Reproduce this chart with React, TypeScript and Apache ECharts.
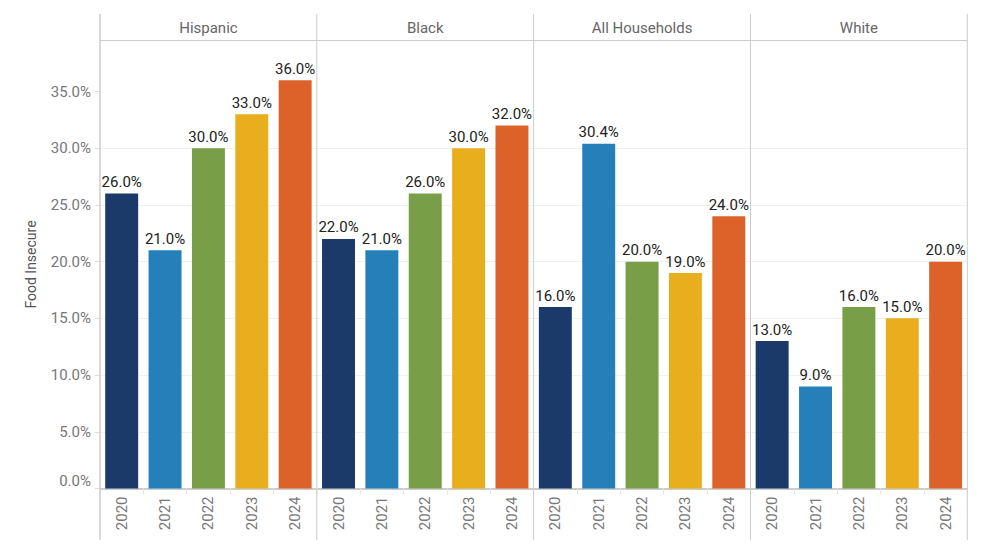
import React, { useEffect, useRef } from "react";
import * as echarts from "echarts";

const panels = ["Hispanic", "Black", "All Households", "White"];
const years = ["2020", "2021", "2022", "2023", "2024"];
const hispanic = [26, 21, 30, 33, 36];
const black = [22, 21, 26, 30, 32];
const allHouseholds = [16, 30.4, 20, 19, 24];
const white = [13, 9, 16, 15, 20];
const seriesValues = [hispanic, black, allHouseholds, white];
const yearColors = ["#1b3a6a", "#2580ba", "#789f48", "#e9ae1d", "#dd622a"];
const yTicks = [0, 5, 10, 15, 20, 25, 30, 35];

const FONT = "Roboto, 'Noto Sans', sans-serif";

export default function App() {
  const ref = useRef<HTMLDivElement>(null);
  useEffect(() => {
    if (!ref.current) return;
    const chart = echarts.init(ref.current, null, { renderer: "svg" });
    const left0 = 100;
    const right0 = 967.3;
    const pw = (right0 - left0) / panels.length;
    const top = 40.5;
    const bottom0 = 488.5;
    const yMax = 39.5;

    const grids = panels.map((_, i) => ({
      left: left0 + i * pw,
      width: pw,
      top,
      height: bottom0 - top,
      containLabel: false,
    }));

    const xAxes = panels.map((_, i) => ({
      type: "category",
      gridIndex: i,
      data: years,
      axisLine: { show: true, lineStyle: { color: "#cccccc", width: 2 } },
      axisTick: { show: true, length: 6, lineStyle: { color: "#e6e6e6" } },
      axisLabel: {
        rotate: 90,
        color: "#777777",
        fontSize: 15,
        fontFamily: FONT,
        margin: 8,
      },
    }));

    const yAxes = panels.map((_, i) => ({
      type: "value",
      gridIndex: i,
      min: 0,
      max: yMax,
      interval: 5,
      name: i === 0 ? "Food Insecure" : "",
      nameLocation: "middle",
      nameGap: 62,
      nameRotate: 90,
      nameTextStyle: { color: "#555555", fontSize: 14, fontFamily: FONT },
      axisLine: { show: false },
      axisTick: {
        show: i === 0,
        length: 5,
        lineStyle: { color: "#dddddd" },
        customValues: yTicks,
      },
      axisLabel: {
        show: i === 0,
        color: "#777777",
        fontSize: 15,
        fontFamily: FONT,
        margin: 9,
        customValues: yTicks,
        formatter: (v: number) => {
          if (yTicks.indexOf(v) < 0) return "";
          if (v === 0) return "{z|0.0%}";
          return v.toFixed(1) + "%";
        },
        rich: {
          z: {
            color: "#777777",
            fontSize: 15,
            fontFamily: FONT,
            padding: [0, 0, 16, 0],
          },
        },
      },
      splitLine: {
        show: true,
        lineStyle: { color: "#f0f0f0", width: 1 },
        showMaxLine: false,
      },
    }));

    const series = panels.map((_, i) => ({
      type: "bar",
      xAxisIndex: i,
      yAxisIndex: i,
      barCategoryGap: "24%",
      data: seriesValues[i].map((v, j) => ({
        value: v,
        itemStyle: { color: yearColors[j] },
      })),
      label: {
        show: true,
        position: "top",
        distance: 4,
        color: "#222222",
        fontSize: 15,
        fontFamily: FONT,
        formatter: (p: any) => Number(p.value).toFixed(1) + "%",
      },
    }));

    const graphics: any[] = [];
    for (let i = 0; i <= panels.length; i++) {
      const x = left0 + i * pw;
      graphics.push({
        type: "line",
        shape: { x1: x, y1: 14, x2: x, y2: 540 },
        style: { stroke: "#cccccc", lineWidth: i === 0 ? 1.5 : 1 },
        z: 10,
      });
    }
    graphics.push({
      type: "line",
      shape: { x1: left0, y1: top, x2: right0, y2: top },
      style: { stroke: "#cccccc", lineWidth: 1 },
      z: 10,
    });
    panels.forEach((name, i) => {
      graphics.push({
        type: "text",
        x: left0 + (i + 0.5) * pw,
        y: 28,
        style: {
          text: name,
          fill: "#666666",
          fontSize: 15,
          fontFamily: FONT,
          textAlign: "center",
          textVerticalAlign: "middle",
        },
        z: 10,
      });
    });

    chart.setOption({
      animation: false,
      textStyle: { fontFamily: FONT },
      grid: grids,
      xAxis: xAxes,
      yAxis: yAxes,
      series,
      graphic: graphics,
    } as any);
    return () => chart.dispose();
  }, []);
  return (
    <div
      ref={ref}
      style={{ position: "fixed", left: 0, top: 0, width: 983, height: 555, background: "#fff" }}
    />
  );
}
